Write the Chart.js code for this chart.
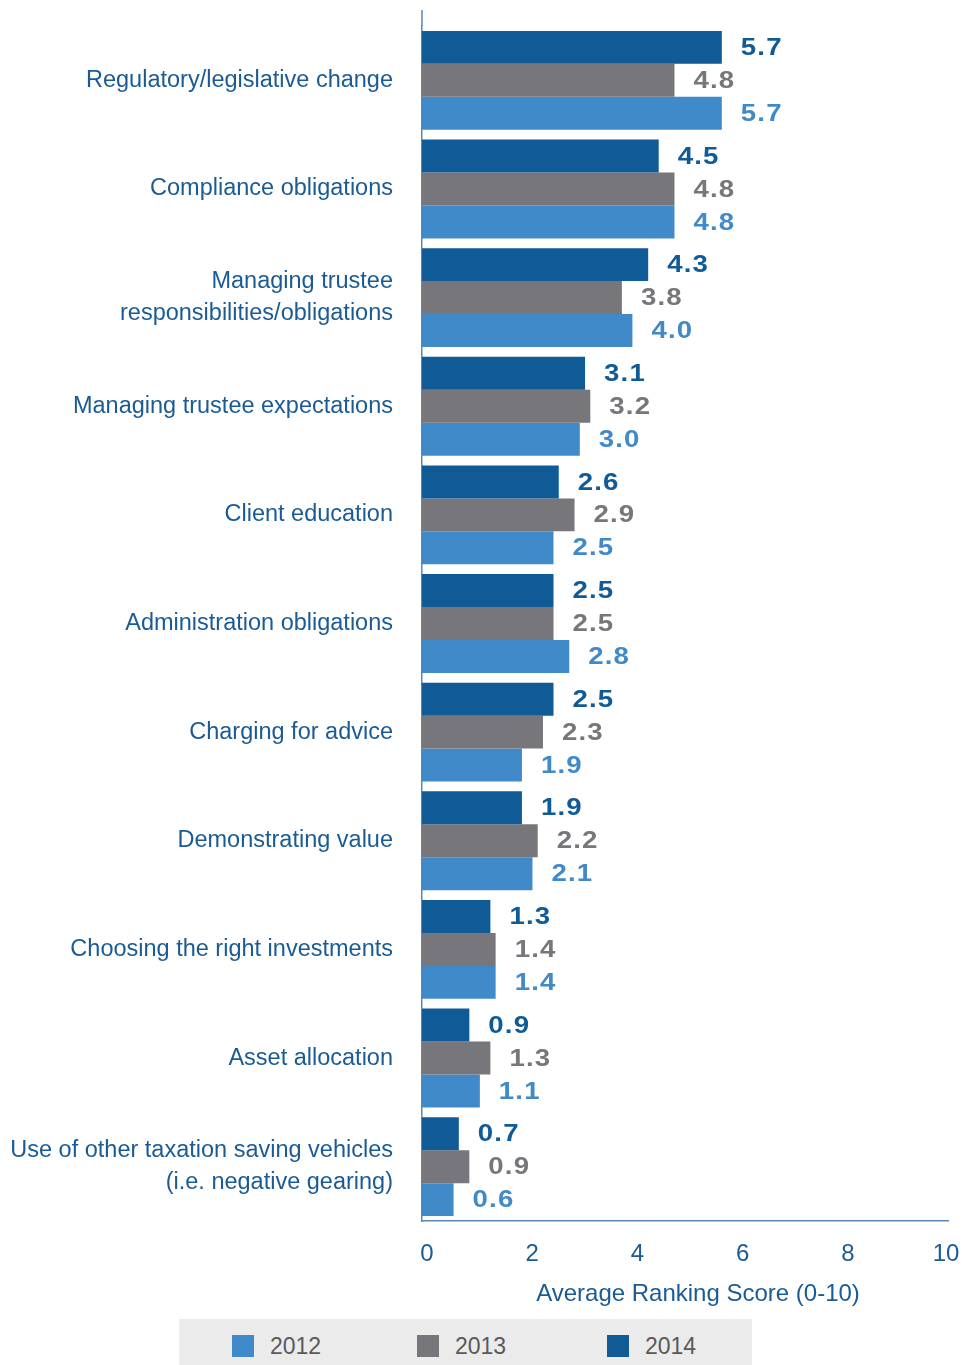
<!DOCTYPE html>
<html>
<head>
<meta charset="utf-8">
<title>Average Ranking Score</title>
<script src="https://cdn.jsdelivr.net/npm/chart.js@4.4.1/dist/chart.umd.min.js"></script>
<style>
  body { margin: 0; background: #fff; font-family: "Liberation Sans", Arial, sans-serif; }
  #wrap { position: relative; width: 962px; height: 1365px; }
  #mainChart { position: absolute; left: 0; top: 0; }
  #legend {
    position: absolute; left: 179px; top: 1319px; width: 573px; height: 46px;
    background: #ebebeb;
  }
  .item { position: absolute; top: 16px; height: 22px; }
  .item span.box { position: absolute; left: 0; top: 0; width: 22px; height: 22px; }
  .item span.txt { position: absolute; left: 38px; top: -1px; font-size: 23px; line-height: 24px; color: #58595b; }
</style>
</head>
<body>
<div id="wrap">
  <canvas id="mainChart" width="962" height="1315"></canvas>
  <div id="legend"></div>
</div>
<script>
// Kategori dan nilai per tahun
const categories = [
    'Regulatory/legislative change',
    'Compliance obligations',
    ['Managing trustee', 'responsibilities/obligations'],
    'Managing trustee expectations',
    'Client education',
    'Administration obligations',
    'Charging for advice',
    'Demonstrating value',
    'Choosing the right investments',
    'Asset allocation',
    ['Use of other taxation saving vehicles', '(i.e. negative gearing)']
];
const values2014 = [5.7, 4.5, 4.3, 3.1, 2.6, 2.5, 2.5, 1.9, 1.3, 0.9, 0.7];
const values2013 = [4.8, 4.8, 3.8, 3.2, 2.9, 2.5, 2.3, 2.2, 1.4, 1.3, 0.9];
const values2012 = [5.7, 4.8, 4.0, 3.0, 2.5, 2.8, 1.9, 2.1, 1.4, 1.1, 0.6];
const xTicks = [0, 2, 4, 6, 8, 10];
const xTitle = 'Average Ranking Score (0-10)';

const colors = { 2012: '#418ac9', 2013: '#77777b', 2014: '#105a96' };
const textBlue = '#1a5b96';
const axisColor = '#5b87b8';

Chart.defaults.font.family = '"Liberation Sans", Arial, sans-serif';

// Label nilai di ujung setiap batang (huruf sedikit dilebarkan)
const valueLabels = {
    id: 'valueLabels',
    afterDatasetsDraw(chart) {
        const ctx = chart.ctx;
        chart.data.datasets.forEach((ds, i) => {
            const meta = chart.getDatasetMeta(i);
            meta.data.forEach((bar, j) => {
                ctx.save();
                ctx.font = 'bold 24px "Liberation Sans", Arial, sans-serif';
                ctx.letterSpacing = '1px';
                ctx.textAlign = 'left';
                ctx.textBaseline = 'middle';
                ctx.fillStyle = ds.backgroundColor;
                ctx.translate(bar.x + 19, bar.y + 1);
                ctx.scale(1.15, 1);
                ctx.fillText(ds.data[j].toFixed(1), 0, 0);
                ctx.restore();
            });
        });
    }
};

// Garis sumbu kiri sedikit melewati area grafik ke atas, plus judul sumbu x
const axisExtras = {
    id: 'axisExtras',
    beforeDraw(chart) {
        // label "10" digeser ke kiri supaya tidak terpotong di tepi kanvas
        const items = chart.scales.x.getLabelItems(chart.chartArea);
        const last = items[items.length - 1];
        if (last) {
            last.options.translation[0] -= 7;
        }
    },
    afterDraw(chart) {
        const ctx = chart.ctx;
        const a = chart.chartArea;
        ctx.save();
        ctx.strokeStyle = axisColor;
        ctx.lineWidth = 1.5;
        ctx.beginPath();
        ctx.moveTo(a.left, 10);
        ctx.lineTo(a.left, a.top);
        ctx.stroke();

        ctx.fillStyle = textBlue;
        ctx.font = '24px "Liberation Sans", Arial, sans-serif';
        ctx.textAlign = 'center';
        ctx.textBaseline = 'middle';
        ctx.fillText(xTitle, (a.left + a.right) / 2 + 13, 1294);
        ctx.restore();
    }
};

const series = [
    { label: '2014', data: values2014, backgroundColor: colors[2014] },
    { label: '2013', data: values2013, backgroundColor: colors[2013] },
    { label: '2012', data: values2012, backgroundColor: colors[2012] }
];

new Chart(document.getElementById('mainChart').getContext('2d'), {
    type: 'bar',
    data: {
        labels: categories,
        datasets: series.map(s => ({
            label: s.label,
            data: s.data,
            backgroundColor: s.backgroundColor,
            borderWidth: 0,
            barPercentage: 1,
            categoryPercentage: 0.91
        }))
    },
    options: {
        indexAxis: 'y',
        responsive: false,
        animation: false,
        layout: { padding: { top: 26, right: 14, bottom: 0, left: 0 } },
        plugins: {
            legend: { display: false },
            tooltip: { enabled: false }
        },
        scales: {
            y: {
                grid: { display: false, drawTicks: false },
                border: { display: true, color: axisColor, width: 1.5 },
                ticks: {
                    color: textBlue,
                    font: { size: 23.5, lineHeight: 1.37 },
                    padding: 29
                },
                afterFit(scale) {
                    scale.width = 422;
                    scale.paddingTop = 0;
                    scale.paddingBottom = 0;
                }
            },
            x: {
                min: 0,
                max: 10,
                grid: { display: false, drawTicks: false },
                border: { display: true, color: axisColor, width: 1.5 },
                afterBuildTicks(scale) {
                    scale.ticks = xTicks.map(v => ({ value: v }));
                },
                ticks: {
                    color: textBlue,
                    font: { size: 24 },
                    padding: 19,
                    labelOffset: 5
                },
                afterFit(scale) {
                    scale.height = 94;
                    scale.paddingLeft = 0;
                    scale.paddingRight = 0;
                }
            }
        }
    },
    plugins: [valueLabels, axisExtras]
});

// Legenda HTML di bawah grafik
const legendItems = [
    { year: '2012', left: 53 },
    { year: '2013', left: 238 },
    { year: '2014', left: 428 }
];
const legendEl = document.getElementById('legend');
legendItems.forEach(it => {
    const div = document.createElement('div');
    div.className = 'item';
    div.style.left = it.left + 'px';
    div.innerHTML = '<span class="box" style="background:' + colors[it.year] + '"></span><span class="txt">' + it.year + '</span>';
    legendEl.appendChild(div);
});
</script>
</body>
</html>
